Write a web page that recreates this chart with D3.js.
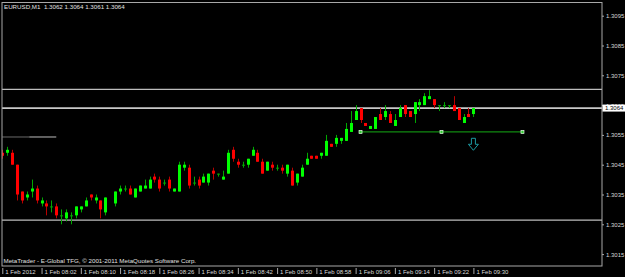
<!DOCTYPE html>
<html><head><meta charset="utf-8">
<script src="https://cdn.jsdelivr.net/npm/d3@7/dist/d3.min.js"></script>
<style>
html,body{margin:0;padding:0;background:#000;}
svg{display:block;}
text{font-family:"Liberation Sans",Arial,sans-serif;}
</style></head><body>
<script>
// ---- data ----
const symbolTitle = "EURUSD,M1  1.3062 1.3064 1.3061 1.3064";
const footer = "MetaTrader - E-Global TFG, \u00A9 2001-2011 MetaQuotes Software Corp.";
const times = ["07:54","07:55","07:56","07:57","07:58","07:59","08:00","08:01","08:02","08:03","08:04","08:05","08:06","08:07","08:08","08:09","08:10","08:11","08:12","08:13","08:14","08:15","08:17","08:18","08:19","08:20","08:21","08:22","08:23","08:24","08:25","08:26","08:27","08:28","08:29","08:30","08:31","08:32","08:33","08:34","08:35","08:36","08:37","08:38","08:39","08:40","08:41","08:42","08:43","08:44","08:45","08:46","08:47","08:48","08:49","08:50","08:51","08:52","08:53","08:54","08:55","08:56","08:57","08:58","08:59","09:00","09:01","09:02","09:03","09:04","09:05","09:06","09:07","09:08","09:09","09:10","09:11","09:12","09:13","09:14","09:15","09:16","09:17","09:18","09:19","09:20","09:21","09:22","09:23","09:24","09:25","09:26","09:27","09:28","09:29","09:30"];
const opens  = [1.3049,1.3049,1.3049,1.3045,1.3036,1.3034,1.3036,1.3037,1.3032,1.3032,1.3031,1.3031,1.3028,1.3027,1.3028,1.3028,1.3030,1.3031,1.3035,1.3033,1.3033,1.3029,1.3032,1.3036,1.3037,1.3037,1.3034,1.3036,1.3037,1.3037,1.3041,1.3040,1.3039,1.3040,1.3036,1.3036,1.3044,1.3044,1.3039,1.3040,1.3039,1.3039,1.3043,1.3042,1.3040,1.3042,1.3050,1.3046,1.3045,1.3045,1.3048,1.3049,1.3046,1.3043,1.3045,1.3044,1.3044,1.3042,1.3043,1.3039,1.3041,1.3045,1.3048,1.3048,1.3048,1.3048,1.3052,1.3052,1.3053,1.3053,1.3056,1.3060,1.3064,1.3059,1.3057,1.3057,1.3062,1.3061,1.3062,1.3058,1.3061,1.3065,1.3063,1.3062,1.3065,1.3065,1.3067,1.3067,1.3065,1.3065,1.3065,1.3065,1.3064,1.3059,1.3062,1.3062];
const highs  = [1.3050,1.3051,1.3050,1.3045,1.3036,1.3036,1.3040,1.3038,1.3034,1.3033,1.3033,1.3032,1.3030,1.3030,1.3029,1.3031,1.3031,1.3034,1.3035,1.3035,1.3033,1.3034,1.3036,1.3038,1.3038,1.3038,1.3037,1.3038,1.3040,1.3041,1.3042,1.3041,1.3040,1.3041,1.3037,1.3046,1.3046,1.3045,1.3041,1.3041,1.3042,1.3042,1.3044,1.3042,1.3043,1.3050,1.3051,1.3047,1.3046,1.3047,1.3051,1.3050,1.3047,1.3046,1.3046,1.3045,1.3045,1.3045,1.3044,1.3042,1.3045,1.3049,1.3048,1.3048,1.3049,1.3055,1.3052,1.3055,1.3054,1.3059,1.3063,1.3065,1.3064,1.3059,1.3058,1.3061,1.3064,1.3065,1.3063,1.3062,1.3065,1.3065,1.3063,1.3066,1.3067,1.3069,1.3070,1.3067,1.3065,1.3066,1.3065,1.3068,1.3064,1.3062,1.3064,1.3064];
const lows   = [1.3047,1.3048,1.3045,1.3033,1.3032,1.3033,1.3034,1.3032,1.3031,1.3028,1.3029,1.3027,1.3025,1.3026,1.3025,1.3027,1.3029,1.3031,1.3033,1.3032,1.3027,1.3028,1.3031,1.3035,1.3036,1.3035,1.3034,1.3036,1.3037,1.3037,1.3039,1.3036,1.3038,1.3036,1.3036,1.3036,1.3043,1.3037,1.3038,1.3037,1.3039,1.3038,1.3040,1.3041,1.3040,1.3042,1.3046,1.3044,1.3044,1.3044,1.3048,1.3046,1.3042,1.3043,1.3043,1.3043,1.3042,1.3041,1.3038,1.3038,1.3041,1.3045,1.3047,1.3047,1.3047,1.3048,1.3051,1.3051,1.3052,1.3053,1.3056,1.3060,1.3059,1.3058,1.3057,1.3057,1.3060,1.3060,1.3059,1.3058,1.3061,1.3061,1.3061,1.3059,1.3063,1.3065,1.3067,1.3064,1.3063,1.3064,1.3064,1.3063,1.3060,1.3059,1.3061,1.3061];
const closes = [1.3048,1.3050,1.3045,1.3035,1.3033,1.3035,1.3037,1.3033,1.3033,1.3031,1.3031,1.3028,1.3028,1.3029,1.3028,1.3031,1.3031,1.3033,1.3034,1.3034,1.3030,1.3034,1.3036,1.3037,1.3037,1.3035,1.3037,1.3038,1.3038,1.3040,1.3040,1.3037,1.3039,1.3037,1.3037,1.3045,1.3045,1.3038,1.3039,1.3038,1.3041,1.3042,1.3042,1.3042,1.3041,1.3049,1.3047,1.3045,1.3045,1.3047,1.3050,1.3046,1.3042,1.3046,1.3044,1.3044,1.3043,1.3045,1.3038,1.3042,1.3044,1.3047,1.3047,1.3047,1.3049,1.3053,1.3051,1.3054,1.3054,1.3057,1.3059,1.3063,1.3060,1.3058,1.3058,1.3061,1.3060,1.3063,1.3059,1.3060,1.3064,1.3062,1.3061,1.3066,1.3066,1.3068,1.3068,1.3065,1.3065,1.3065,1.3065,1.3063,1.3060,1.3061,1.3061,1.3064];
const priceTicks = [1.3095,1.3085,1.3075,1.3065,1.3055,1.3045,1.3035,1.3025,1.3015];
const timeTicks  = ["07:54","08:02","08:10","08:18","08:26","08:34","08:42","08:50","08:58","09:06","09:14","09:22","09:30"];
const timeLabels = ["1 Feb 2012","1 Feb 08:02","1 Feb 08:10","1 Feb 08:18","1 Feb 08:26","1 Feb 08:34","1 Feb 08:42","1 Feb 08:50","1 Feb 08:58","1 Feb 09:06","1 Feb 09:14","1 Feb 09:22","1 Feb 09:30"];
const bidPrice = 1.3064;
const hLines = [1.30703, 1.30264];
const shortLine = {price:1.30543, from:"07:54", to:"08:05"};
const trendLine = {price:1.3056, from:"09:07", to:"09:40"};
const arrowMark = {price:1.30542, time:"09:30"};

// ---- layout ----
const W=625,H=277;
const plot={left:2,right:602,top:2.5,bottom:266};
const toMin=s=>{const [h,m]=s.split(":").map(Number);return h*60+m;};
const x=d3.scaleLinear().domain([toMin("07:54"),toMin("09:30")]).range([2.3,473.4]);
const y=d3.scaleLinear().domain([1.3015,1.3095]).range([254.1,15.7]);

const svg=d3.select("body").append("svg").attr("width",W).attr("height",H);
svg.append("rect").attr("width",W).attr("height",H).attr("fill","#000");

const clip=svg.append("clipPath").attr("id","pc").append("rect")
  .attr("x",plot.left).attr("y",plot.top).attr("width",plot.right-plot.left).attr("height",plot.bottom-plot.top);
const g=svg.append("g").attr("clip-path","url(#pc)");

// horizontal lines
g.selectAll("line.h").data(hLines).join("line").attr("class","h")
  .attr("x1",plot.left).attr("x2",plot.right).attr("y1",d=>y(d)).attr("y2",d=>y(d))
  .attr("stroke","#bdbdbd").attr("stroke-width",1.2);
g.append("line").attr("x1",plot.left).attr("x2",plot.right).attr("y1",y(bidPrice)).attr("y2",y(bidPrice))
  .attr("stroke","#c8c8c8").attr("stroke-width",1.6);
const sx0=x(toMin(shortLine.from)), sx1=x(toMin(shortLine.to)), smid=(sx0+sx1)/2;
g.append("line").attr("x1",sx0).attr("x2",smid).attr("y1",y(shortLine.price)).attr("y2",y(shortLine.price)).attr("stroke","#6a6a6a").attr("stroke-width",1);
g.append("line").attr("x1",smid).attr("x2",sx1).attr("y1",y(shortLine.price)).attr("y2",y(shortLine.price)).attr("stroke","#bdbdbd").attr("stroke-width",1);

// candles
const candles=times.map((t,i)=>({t:toMin(t),o:opens[i],h:highs[i],l:lows[i],c:closes[i]}));
const cg=g.selectAll("g.c").data(candles).join("g").attr("class","c");
cg.append("line")
  .attr("x1",d=>Math.round(x(d.t))+0.5).attr("x2",d=>Math.round(x(d.t))+0.5)
  .attr("y1",d=>y(d.h)).attr("y2",d=>y(d.l))
  .attr("stroke",d=>d.c>=d.o?"#00a800":"#b80000").attr("stroke-width",1);
cg.append("rect")
  .attr("x",d=>Math.round(x(d.t))-1).attr("width",3)
  .attr("y",d=>y(Math.max(d.o,d.c)))
  .attr("height",d=>Math.max(1,Math.abs(y(d.o)-y(d.c))))
  .attr("fill",d=>d.c>d.o?"#00ff00":(d.c<d.o?"#ff0000":"#00a800"));

// trend line
const tx0=x(toMin(trendLine.from)), tx1=x(toMin(trendLine.to)), ty=y(trendLine.price);
g.append("line").attr("x1",tx0).attr("x2",tx1).attr("y1",ty).attr("y2",ty).attr("stroke","#118a11").attr("stroke-width",1.2);
g.selectAll("rect.hd").data([tx0,(tx0+tx1)/2,tx1]).join("rect").attr("class","hd")
  .attr("x",d=>d-1.5).attr("y",ty-1.5).attr("width",3).attr("height",3)
  .attr("fill","#3c3").attr("stroke","#e8ffe8").attr("stroke-width",0.7);

// arrow
const ax=x(toMin(arrowMark.time)), ay=y(arrowMark.price);
g.append("path").attr("d",`M${ax-2},${ay+1} L${ax+2},${ay+1} L${ax+2},${ay+7} L${ax+5},${ay+7} L${ax},${ay+13} L${ax-5},${ay+7} L${ax-2},${ay+7} Z`)
  .attr("fill","none").attr("stroke","#1c9aa2").attr("stroke-width",1);

// frame
svg.append("rect").attr("x",plot.left).attr("y",plot.top).attr("width",plot.right-plot.left).attr("height",plot.bottom-plot.top)
  .attr("fill","none").attr("stroke","#a8a8a8").attr("stroke-width",1);

// price axis
const pa=svg.append("g").attr("transform",`translate(${plot.right},0)`)
  .call(d3.axisRight(y).tickValues(priceTicks).tickSize(2).tickPadding(2).tickFormat(d3.format(".4f")));
pa.select(".domain").remove();
pa.selectAll("line").attr("stroke","#a8a8a8");
pa.selectAll("text").attr("fill","#d8d8d8").attr("font-size","6px").attr("font-family","Liberation Sans, Arial, sans-serif");

// bid box
const by=y(bidPrice);
svg.append("rect").attr("x",plot.right+0.5).attr("y",by-3.5).attr("width",W-plot.right).attr("height",7).attr("fill","#fff");
svg.append("text").attr("x",plot.right+3).attr("y",by+2.2).attr("font-size","6px").attr("fill","#000").text(d3.format(".4f")(bidPrice));

// time axis
const ta=svg.append("g").attr("transform",`translate(0,${plot.bottom})`)
  .call(d3.axisBottom(x).tickValues(timeTicks.map(toMin)).tickSize(8).tickPadding(0).tickFormat((d,i)=>timeLabels[i]));
ta.select(".domain").remove();
ta.selectAll("line").attr("stroke","#a8a8a8").attr("y1",2);
ta.selectAll("text").attr("text-anchor","start").attr("dx",2.5).attr("y",3.5).attr("dy","0.71em")
  .attr("fill","#d8d8d8").attr("font-size","6px").attr("font-family","Liberation Sans, Arial, sans-serif");

// texts
svg.append("text").attr("x",4).attr("y",8.5).attr("font-size","6.2px").attr("fill","#e0e0e0").attr("xml:space","preserve").style("white-space","pre").text(symbolTitle);
svg.append("text").attr("x",3.5).attr("y",263).attr("font-size","6.2px").attr("fill","#e0e0e0").text(footer);
</script>
</body></html>
